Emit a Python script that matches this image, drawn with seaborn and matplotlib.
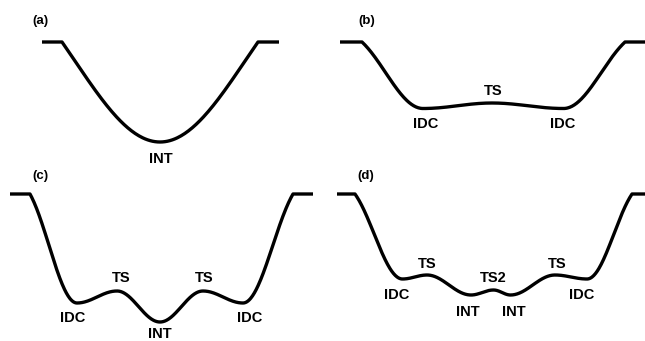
import numpy as np
import pandas as pd
import matplotlib
matplotlib.use("Agg")
import matplotlib.pyplot as plt
import seaborn as sns

sns.set_theme(style="white")
plt.rcParams['font.family'] = ['Liberation Sans', 'DejaVu Sans']
plt.rcParams['text.color'] = 'black'

# ---- data: stationary points of each schematic energy profile ----
# reaction coordinate (arbitrary units) and relative energy (arbitrary units)
a_x = [42, 62, 160, 258, 279]
a_e = [0.0, 0.0, -10.0, 0.0, 0.0]
a_lab = ['', '', 'INT', '', '']

b_x = [17.5, 39.5, 100.5, 169.5, 241.0, 302.5, 322.5]
b_e = [0.0, 0.0, -6.65, -6.1, -6.65, 0.0, 0.0]
b_lab = ['', '', 'IDC', 'TS', 'IDC', '', '']

c_x = [10, 30, 77, 117, 160, 203, 243, 293, 313]
c_e = [0.0, 0.0, -10.9, -9.7, -12.8, -9.7, -10.9, 0.0, 0.0]
c_lab = ['', '', 'IDC', 'TS', 'INT', 'TS', 'IDC', '', '']

d_x = [14.5, 32.5, 80.0, 104.5, 148.5, 171.0, 188.0, 232.5, 264.5, 309.5, 322.5]
d_e = [0.0, 0.0, -8.5, -8.1, -10.1, -9.6, -10.1, -8.1, -8.5, 0.0, 0.0]
d_lab = ['', '', 'IDC', 'TS', 'INT', 'TS2', 'INT', 'TS', 'IDC', '', '']

panel_names = ['(a)', '(b)', '(c)', '(d)']

# label offsets (pixels) relative to each stationary point
a_off = {2: (1, -17)}
b_off = {2: (3, -15), 3: (1, 12), 4: (-1, -15)}
c_off = {2: (-4, -15), 3: (4, 13), 4: (0, -12), 5: (1, 13), 6: (7, -15)}
d_off = {2: (-6, -16), 3: (0, 11), 4: (-3, -17), 5: (0, 12), 6: (3, -17), 7: (2, 11), 8: (-5, -16)}


def profile(xs, es, w):
    X, Y = [], []
    n = len(xs)
    t = np.linspace(0, 1, 80)
    for i in range(n - 1):
        cosf = (1 - np.cos(np.pi * t)) / 2
        if i == 1:
            f = w * np.sin(np.pi * t / 2) + (1 - w) * cosf
        elif i == n - 3:
            f = w * (1 - np.cos(np.pi * t / 2)) + (1 - w) * cosf
        else:
            f = cosf
        X.append(xs[i] + (xs[i + 1] - xs[i]) * t)
        Y.append(es[i] + (es[i + 1] - es[i]) * f)
    return np.concatenate(X), np.concatenate(Y)


fig = plt.figure(figsize=(6.45, 3.41), dpi=100)
fig.patch.set_facecolor('white')

panels = [
    (a_x, a_e, a_lab, a_off, [0.0, 0.5, 0.5, 0.5], (-12.85, 4.2), 0.9, (0.124, 0.877)),
    (b_x, b_e, b_lab, b_off, [0.5, 0.5, 0.5, 0.5], (-12.85, 4.2), 0.55, (0.138, 0.877)),
    (c_x, c_e, c_lab, c_off, [0.0, 0.0, 0.5, 0.5], (-14.7, 2.35), 0.5, (0.124, 0.965)),
    (d_x, d_e, d_lab, d_off, [0.5, 0.0, 0.5, 0.5], (-14.7, 2.35), 0.5, (0.135, 0.965)),
]

for k, (xs, es, labs, offs, pos, ylim, w, pl) in enumerate(panels):
    ax = fig.add_axes(pos)
    X, Y = profile(xs, es, w)
    df = pd.DataFrame({'coord': X, 'energy': Y})
    sns.lineplot(data=df, x='coord', y='energy', ax=ax, color='black',
                 linewidth=2.4, sort=False, estimator=None,
                 solid_capstyle='butt', solid_joinstyle='round')
    ax.set_xlim(0, 322.5)
    ax.set_ylim(*ylim)
    ax.axis('off')
    for i, lab in enumerate(labs):
        if lab:
            dx, dy = offs[i]
            ax.annotate(lab, (xs[i], es[i]), xytext=(dx, dy),
                        textcoords='offset pixels', ha='center', va='center',
                        fontsize=10.5, fontweight='bold', color='black')
    ax.text(pl[0], pl[1], panel_names[k], transform=ax.transAxes,
            ha='center', va='center', fontsize=9.5, fontweight='bold',
            color='black')

fig.savefig('out.png', dpi=100, facecolor='white')
